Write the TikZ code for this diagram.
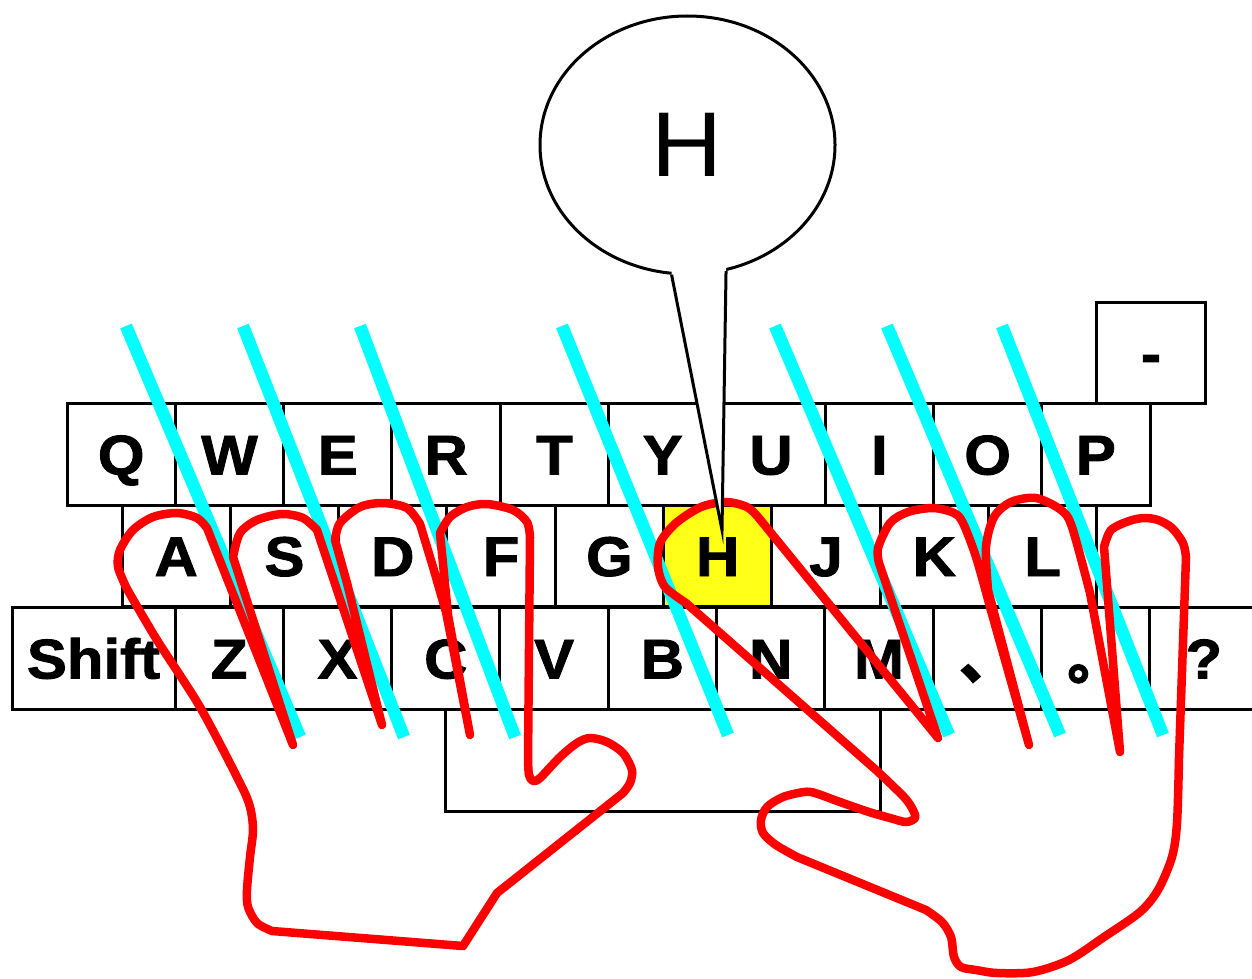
\documentclass[tikz,border=0pt]{standalone}
\usepackage{fontspec}
\setmainfont{Liberation Sans}[FakeStretch=1.07, BoldFeatures={FakeBold=1.6}]
\newfontfamily\cjk{Noto Sans CJK SC}[FakeBold=2]
\usetikzlibrary{shapes.geometric}
\definecolor{guidecyan}{RGB}{0,255,255}
\definecolor{handred}{RGB}{255,0,0}
\definecolor{keyyellow}{RGB}{255,255,24}
\begin{document}
\begin{tikzpicture}[x=1pt, y=-1pt, line width=3pt,
    keycap/.style={draw, minimum width=108.3pt, minimum height=101.5pt, inner sep=0pt,
      text height=40pt, text depth=0pt, font=\fontsize{56}{56}\selectfont\bfseries},
    guide/.style={guidecyan, line width=12.5pt},
    hand/.style={handred, line width=8.5pt, line join=round, line cap=round}]
  \useasboundingbox (0,0) rectangle (1252,979);
  \draw[every node/.style=keycap]
    (121.2,454.5) node (Q){Q}
    (229.5,454.5) node (W){W}
    (337.8,454.5) node (E){E}
    (446.1,454.5) node (R){R}
    (554.4,454.5) node (T){T}
    (662.7,454.5) node (Y){Y}
    (771.0,454.5) node (U){U}
    (879.3,454.5) node (I){I}
    (987.6,454.5) node (O){O}
    (1095.9,454.5) node (P){P}
    (1151.0,353.0) node (minus){-}
    (176.2,556.0) node (A){A}
    (284.5,556.0) node (S){S}
    (392.8,556.0) node (D){D}
    (501.1,556.0) node (F){F}
    (609.4,556.0) node (G){G}
    (717.7,556.0) node[fill=keyyellow] (H){H}
    (826.0,556.0) node (J){J}
    (934.3,556.0) node (K){K}
    (1042.6,556.0) node (L){L}
    (93.5,658.5) node[minimum width=163pt] (shift){Shift}
    (229.2,658.5) node (Z){Z}
    (337.5,658.5) node (X){X}
    (445.8,658.5) node (C){C}
    (554.1,658.5) node (V){V}
    (662.4,658.5) node (B){B}
    (770.7,658.5) node (N){N}
    (879.0,658.5) node (M){M}
    (987.3,658.5) node (comma){\cjk 、}
    (1095.6,658.5) node (period){\cjk 。}
    (1203.9,658.5) node (question){?}
    (662.5,760.5) node[minimum width=435pt] (space){};
  % finger guides
  \draw[guide] (126,326) -- (300,737);
  \draw[guide] (243,326) -- (404,737);
  \draw[guide] (360,326) -- (515,737);
  \draw[guide] (562,326) -- (728,735);
  \draw[guide] (775,326) -- (949,735);
  \draw[guide] (887,326) -- (1060,735);
  \draw[guide] (1002,326) -- (1163,735);
  % left hand
  \draw[hand] (293,745) -- (207,528)
    -- plot[smooth] coordinates {(207,528) (197,518) (177,513) (153,517) (133,530) (120,550) (118,567) (127,589)}
    -- plot[smooth] coordinates {(127,589) (157,640) (200,707) (240,783) (250,807) (253,830) (250,857) (247,890) (248,907) (257,923) (272,931)}
    -- (463,946) -- (497,893) -- (623,793)
    -- plot[smooth] coordinates {(623,793) (630,783) (632,770) (623,753) (607,742) (590,738) (577,743) (560,757) (540,778) (533,781) (529,775) (528,760)}
    -- (530,537)
    -- plot[smooth] coordinates {(530,537) (527,522) (513,510) (487,504) (467,507) (450,517) (440,533)}
    -- (448,615) -- (470,735) -- (446,612) -- (433,567) -- (420,524)
    -- plot[smooth] coordinates {(420,524) (407,508) (383,503) (360,507) (340,523) (335,540)}
    -- (347,583) -- (382,725) -- (317,530)
    -- plot[smooth] coordinates {(317,530) (303,518) (282,514) (257,520) (240,533) (233,557)}
    -- cycle;
  % right hand
  \draw[hand] (938,738) -- (758,517)
    -- plot[smooth] coordinates {(758,517) (747,507) (726,502) (701,507) (676,523) (660,543) (658,567) (665,587) (686,603)}
    -- (876,770)
    -- plot[smooth] coordinates {(876,770) (904,797) (913,810) (915,818) (906,822) (890,818) (869,812) (840,802) (815,793) (804,792) (783,797) (767,807) (761,820) (763,833) (776,845) (797,857)}
    -- (926,910)
    -- plot[smooth] coordinates {(926,910) (942,922) (951,937) (954,957) (961,967) (976,970) (997,973) (1033,972) (1069,960) (1104,937) (1140,912) (1158,890) (1172,857) (1177,823) (1179,757)}
    -- (1186,557)
    -- plot[smooth] coordinates {(1186,557) (1183,543) (1172,528) (1158,520) (1144,518) (1129,521) (1111,530) (1104,547)}
    -- (1120,752) -- (1090,593)
    -- plot[smooth] coordinates {(1090,593) (1072,527) (1061,510) (1036,498) (1011,502) (994,517) (986,547) (988,590)}
    -- (1029,745) -- (990,607)
    -- plot[smooth] coordinates {(990,607) (976,557) (963,523) (954,513) (933,508) (908,512) (890,523) (878,548) (879,563)}
    -- cycle;
  % speech bubble
  \node[draw, ellipse, fill=white, minimum width=295pt, minimum height=258pt, inner sep=0pt,
    font=\fontsize{92}{92}\selectfont] (bubble) at (687.5,145) {H};
  \coordinate (tip) at (722,530);
  \fill[white] (bubble.263) -- (tip) -- (bubble.287) -- ([yshift=8pt]bubble.287) -- ([yshift=8pt]bubble.263) -- cycle;
  \draw (bubble.263) -- (tip) -- (bubble.287);
\end{tikzpicture}
\end{document}
